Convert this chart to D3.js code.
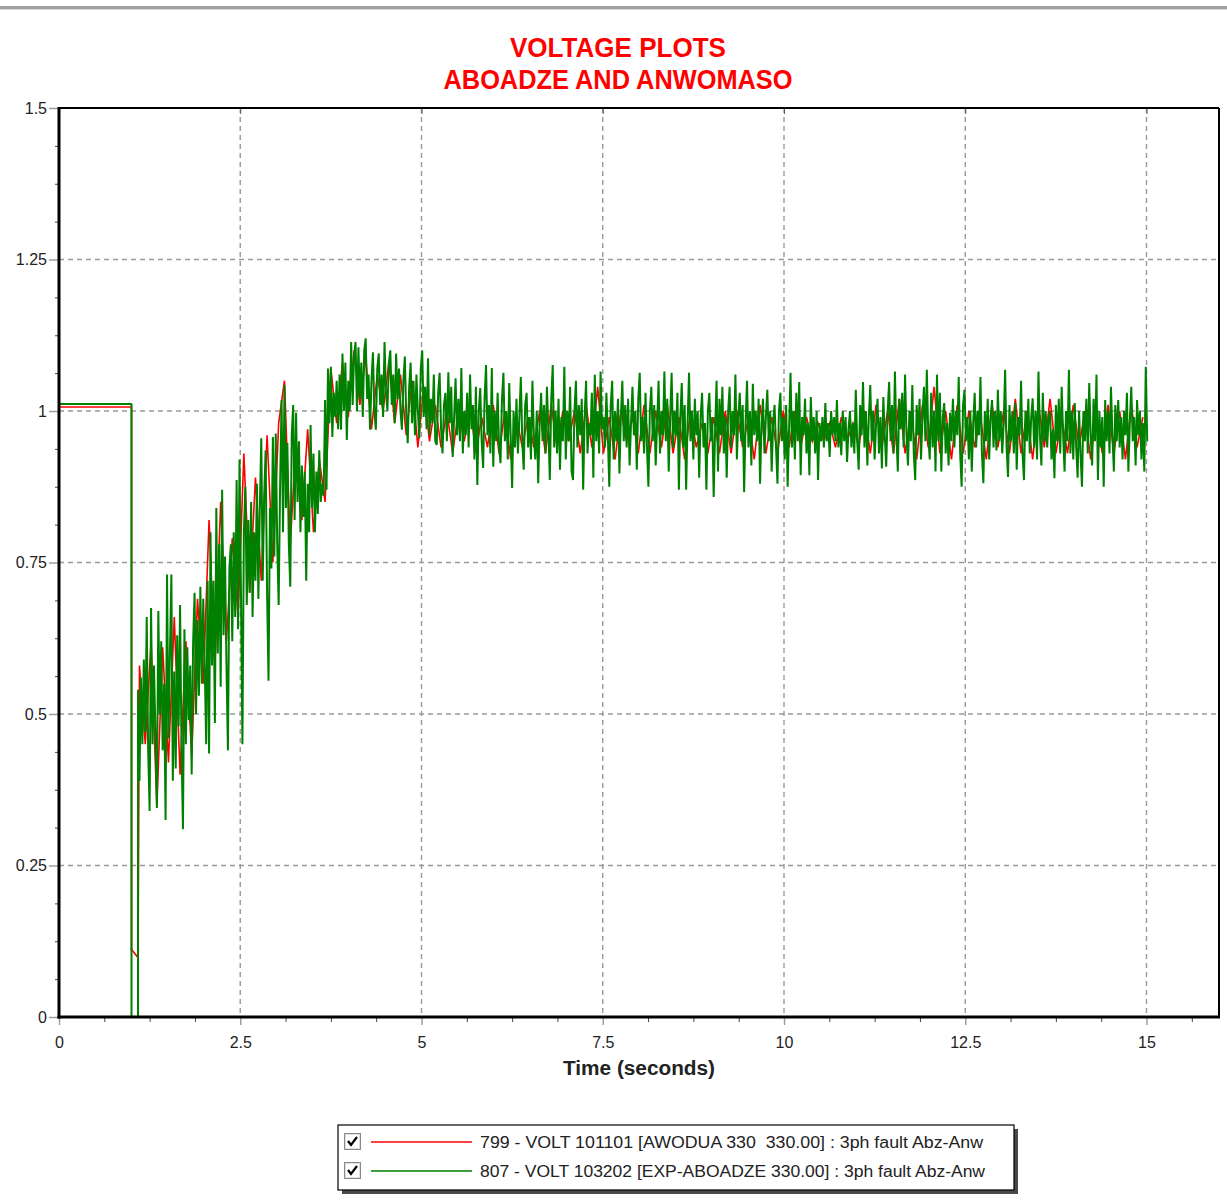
<!DOCTYPE html>
<html>
<head>
<meta charset="utf-8">
<script src="https://cdn.jsdelivr.net/npm/d3@7"></script>
<style>
  body { margin: 0; background: #fff; }
  svg { display: block; font-family: "Liberation Sans", Arial, sans-serif; }
</style>
</head>
<body>
<script>
// ---- data ----
const xTicks = [0, 2.5, 5, 7.5, 10, 12.5, 15]
const yTicks = [0, 0.25, 0.5, 0.75, 1, 1.25, 1.5]
const xMinorStep = 0.625
const yMinorStep = 0.0625

// before / during the fault: [time, volt]
const redPre = [[0, 1.0066], [1.0, 1.0066], [1.0, 0.11], [1.01, 0.11], [1.09, 0.098]]
const greenPre = [[0, 1.0115], [1.0, 1.0115], [1.0, 0], [1.09, 0]]

// after fault clearing, one row per second, sampled every greenDt from greenT0
const greenT0 = 1.09, greenDt = 0.02
const greenVals = [
  0.54, 0.39, 0.56, 0.45, 0.59, 0.47, 0.66, 0.44, 0.34, 0.675, 0.45, 0.58, 0.47, 0.345, 0.67, 0.50, 0.62, 0.44, 0.55, 0.325,
  0.73, 0.46, 0.60, 0.73, 0.39, 0.57, 0.41, 0.63, 0.48, 0.68, 0.44, 0.31, 0.64, 0.45, 0.61, 0.49, 0.58, 0.40, 0.62, 0.70,
  0.50, 0.655, 0.53, 0.71, 0.55, 0.69, 0.58, 0.45, 0.72, 0.435,

  0.80, 0.58, 0.72, 0.485, 0.84, 0.60, 0.78, 0.545, 0.87, 0.63, 0.76, 0.58, 0.44, 0.74, 0.78, 0.62, 0.80, 0.66, 0.886, 0.64,
  0.92, 0.70, 0.45, 0.80, 0.875, 0.68, 0.82, 0.70, 0.85, 0.66, 0.80, 0.72, 0.88, 0.69, 0.84, 0.955, 0.72, 0.86, 0.935, 0.70,
  0.555, 0.84, 0.74, 0.957, 0.76, 0.963, 0.78, 0.68, 0.88, 1.018,

  0.80, 1.043, 0.84, 0.947, 0.78, 0.71, 0.96, 1.01, 0.82, 0.997, 0.85, 0.95, 0.80, 0.91, 0.825, 0.90, 0.72, 0.88, 0.80, 0.977,
  0.84, 0.93, 0.80, 0.90, 0.83, 0.935, 0.85, 0.88, 0.86, 1.018, 0.87, 1.07, 0.98, 1.073, 0.957, 1.03, 0.99, 1.05, 0.97, 1.06,
  0.969, 1.095, 1.00, 1.08, 0.952, 1.05, 1.00, 1.114, 1.01, 1.09,

  1.114, 1.00, 1.105, 1.02, 1.08, 0.99, 1.10, 1.12, 1.02, 1.06, 0.969, 1.05, 1.097, 1.00, 0.969, 1.07, 1.095, 1.01, 1.06, 0.99,
  1.114, 1.03, 1.00, 1.08, 1.10, 1.01, 1.06, 0.98, 1.095, 1.02, 1.07, 1.00, 0.969, 1.05, 1.09, 0.99, 0.947, 1.04, 1.08, 0.98,
  1.05, 0.96, 1.06, 1.00, 0.955, 1.07, 1.10, 0.99, 1.04, 0.97,

  1.087, 0.96, 1.02, 0.98, 1.06, 0.95, 0.944, 1.03, 1.063, 0.97, 0.93, 1.01, 1.03, 0.95, 1.064, 0.98, 1.04, 0.924, 0.99, 1.054,
  0.96, 1.02, 0.95, 1.071, 0.93, 1.00, 0.96, 1.03, 0.94, 1.06, 0.97, 1.01, 0.92, 1.04, 0.878, 1.00, 1.038, 0.95, 0.906, 1.02,
  1.076, 0.96, 1.01, 0.93, 1.071, 0.908, 1.00, 0.95, 1.03, 0.94,

  0.914, 1.02, 1.063, 0.95, 1.00, 0.92, 1.046, 0.96, 0.873, 1.00, 0.94, 1.02, 0.93, 0.99, 1.056, 0.95, 0.903, 1.01, 1.03, 0.94,
  0.99, 0.92, 1.05, 0.96, 0.92, 1.00, 0.881, 0.98, 1.03, 0.95, 1.01, 0.93, 1.04, 0.97, 0.886, 1.02, 1.076, 0.94, 1.00, 0.93,
  1.02, 0.903, 0.99, 0.95, 1.073, 0.92, 1.00, 0.95, 1.04, 0.90,

  0.886, 1.00, 1.05, 0.94, 1.01, 0.96, 1.02, 0.87, 0.99, 1.05, 0.93, 0.98, 0.96, 1.03, 0.89, 1.06, 0.95, 1.00, 0.93, 1.065,
  0.97, 0.99, 0.94, 1.03, 0.96, 0.875, 1.01, 1.05, 0.92, 1.00, 0.95, 1.02, 0.897, 0.99, 1.05, 0.95, 1.01, 0.94, 1.02, 0.91,
  0.98, 1.04, 0.96, 1.00, 0.903, 1.02, 1.063, 0.95, 0.99, 0.93,

  1.03, 0.94, 0.875, 1.00, 1.04, 0.95, 1.01, 0.91, 0.98, 1.05, 0.93, 1.00, 0.96, 1.065, 0.95, 1.02, 0.90, 0.99, 1.063, 0.94,
  1.00, 0.96, 1.03, 0.87, 0.99, 1.046, 0.94, 1.01, 0.87, 0.98, 1.063, 0.95, 1.00, 0.92, 1.02, 0.96, 1.00, 0.89, 0.99, 1.03,
  0.94, 0.98, 0.87, 1.00, 1.03, 0.95, 0.99, 0.858, 0.97, 1.05,

  0.90, 1.02, 0.96, 1.04, 0.93, 0.99, 0.89, 1.00, 1.04, 0.94, 1.00, 0.96, 1.06, 0.92, 0.99, 1.03, 0.95, 1.01, 0.866, 0.98,
  1.05, 0.94, 1.00, 0.91, 1.045, 0.96, 1.00, 0.95, 1.02, 0.88, 0.98, 1.02, 0.93, 0.99, 1.035, 0.95, 1.00, 0.90, 0.98, 1.01,
  0.94, 0.88, 1.00, 1.03, 0.95, 0.99, 0.92, 1.01, 0.875, 0.97,

  1.063, 0.94, 1.00, 0.92, 1.03, 0.95, 1.048, 0.894, 0.99, 0.96, 1.02, 0.93, 0.98, 0.894, 1.023, 0.95, 0.99, 0.93, 1.00, 0.886,
  0.98, 0.95, 0.99, 0.94, 1.013, 0.95, 0.98, 0.924, 1.00, 0.96, 0.99, 0.95, 1.018, 0.94, 0.98, 0.927, 1.00, 0.95, 0.99, 0.916,
  0.97, 1.00, 0.94, 0.98, 0.93, 1.035, 0.95, 0.903, 1.01, 0.96,

  1.048, 0.94, 1.00, 0.91, 0.99, 1.043, 0.95, 1.00, 0.92, 0.98, 1.02, 0.93, 0.99, 0.905, 1.023, 0.96, 0.908, 1.00, 1.048, 0.95,
  1.01, 0.93, 1.065, 0.96, 0.90, 1.02, 0.97, 1.03, 0.94, 1.06, 0.96, 0.91, 1.00, 0.95, 1.043, 0.93, 0.886, 1.01, 0.96, 1.02,
  0.92, 0.99, 1.04, 0.95, 1.068, 0.96, 0.92, 1.03, 0.94, 1.00,

  0.90, 1.06, 0.95, 1.03, 0.90, 0.99, 1.013, 0.93, 0.98, 0.91, 0.997, 0.95, 1.02, 0.94, 1.00, 0.96, 1.056, 0.93, 0.875, 1.01,
  1.035, 0.95, 0.99, 0.92, 1.00, 0.90, 0.98, 1.03, 0.94, 1.00, 0.96, 1.056, 0.93, 0.881, 1.00, 0.95, 1.02, 0.92, 0.99, 1.018,
  0.94, 1.00, 0.935, 1.035, 0.95, 1.00, 0.93, 0.98, 1.068, 0.94,

  0.891, 1.01, 0.95, 1.00, 0.93, 1.013, 0.903, 0.99, 0.96, 1.05, 0.93, 0.886, 1.00, 0.95, 1.02, 0.93, 0.99, 1.021, 0.94, 1.00,
  0.92, 1.065, 0.96, 0.91, 1.03, 0.95, 1.00, 0.94, 0.99, 1.00, 0.92, 0.97, 0.889, 1.01, 0.95, 1.02, 0.93, 1.04, 0.96, 0.90,
  1.00, 0.95, 1.068, 0.93, 1.00, 0.92, 1.013, 0.94, 0.89, 1.00,

  0.93, 0.875, 1.00, 0.95, 1.02, 0.93, 1.046, 0.96, 0.91, 1.02, 0.95, 1.06, 0.886, 1.00, 0.94, 0.99, 0.875, 1.018, 0.95, 1.00,
  0.93, 1.04, 0.96, 0.90, 1.01, 0.95, 1.018, 0.94, 0.99, 0.92, 1.00, 0.96, 1.03, 0.90, 0.98, 1.04, 0.95, 0.99, 0.91, 1.018,
  0.96, 1.00, 0.92, 0.98, 0.90, 1.073, 0.95
]

// red is mostly hidden under green; coarser sampling
const redT0 = 1.11, redDt = 0.08
const redVals = [
  0.58, 0.45, 0.62, 0.347, 0.61, 0.42, 0.66, 0.40, 0.62, 0.43, 0.69, 0.55, 0.82, 0.58, 0.85, 0.62, 0.79, 0.66, 0.93, 0.70, 0.89, 0.72, 0.96, 0.75, 0.98,
  1.05, 0.78, 0.95, 0.82, 0.97, 0.80, 0.92, 0.85, 1.07, 0.98, 1.08, 0.99, 1.10, 1.01, 1.09, 0.97, 1.06, 1.00, 1.08, 0.98, 1.06, 0.96, 1.05, 0.94, 1.04,
  0.95, 1.01, 0.94, 1.00, 0.93, 1.00, 0.95, 1.01, 0.93, 0.99, 0.94, 1.01, 0.93, 1.00, 0.92, 0.99, 0.94, 0.99, 0.94, 1.00, 0.93, 1.01, 0.94, 1.00, 0.95,
  1.00, 0.93, 1.01, 0.94, 1.04, 0.93, 0.99, 0.92, 1.00, 0.95, 0.99, 0.93, 1.01, 0.93, 1.00, 0.94, 1.01, 0.93, 0.99, 0.92, 1.00, 0.94, 0.98, 0.93, 0.99,
  0.93, 1.00, 0.93, 1.00, 0.94, 0.99, 0.92, 1.01, 0.93, 0.99, 0.93, 1.00, 0.94, 1.00, 0.94, 0.99, 0.95, 0.98, 0.95, 0.98, 0.94, 0.99, 0.95, 0.98, 0.94,
  1.00, 0.93, 1.01, 0.94, 1.00, 0.93, 1.02, 0.93, 1.00, 0.92, 1.01, 0.94, 1.04, 0.93, 1.00, 0.92, 1.01, 0.93, 1.00, 0.94, 0.99, 0.92, 1.01, 0.94, 1.00,
  0.93, 1.02, 0.93, 1.00, 0.92, 1.01, 0.94, 1.02, 0.93, 0.99, 0.93, 1.01, 0.94, 1.00, 0.92, 1.00, 0.93, 1.01, 0.93, 1.00, 0.92, 1.01, 0.94, 0.99
]

const titleLines = ['VOLTAGE PLOTS', 'ABOADZE AND ANWOMASO']
const xTitle = 'Time (seconds)'
const series = [
  { name: '799 - VOLT 101101 [AWODUA 330  330.00] : 3ph fault Abz-Anw', color: '#ff0000' },
  { name: '807 - VOLT 103202 [EXP-ABOADZE 330.00] : 3ph fault Abz-Anw', color: '#008000' }
]

// ---- chart ----
const width = 1227, height = 1201
const plot = { left: 59, right: 1219, top: 108, bottom: 1017 }

const x = d3.scaleLinear().domain([0, 16]).range([plot.left, plot.right])
const y = d3.scaleLinear().domain([0, 1.5]).range([plot.bottom, plot.top])

const svg = d3.select('body').append('svg')
  .attr('width', width).attr('height', height)

svg.append('rect').attr('width', width).attr('height', height).attr('fill', '#fff')

// window strip at the very top
svg.append('rect').attr('x', 0).attr('y', 6).attr('width', width).attr('height', 3).attr('fill', '#a0a0a0')
svg.append('rect').attr('x', 0).attr('y', 9).attr('width', width).attr('height', 1).attr('fill', '#d8d8d8')

// title
svg.append('g').selectAll('text').data(titleLines).join('text')
  .attr('x', 618)
  .attr('y', (d, i) => 57 + i * 32)
  .attr('text-anchor', 'middle')
  .attr('font-size', 28)
  .attr('font-weight', 'bold')
  .attr('fill', '#ff0000')
  .attr('textLength', (d, i) => (i === 0 ? 216 : 349))
  .attr('lengthAdjust', 'spacingAndGlyphs')
  .text((d) => d)

// grid
const grid = svg.append('g')
  .attr('stroke', '#999')
  .attr('stroke-width', 1.4)
  .attr('stroke-dasharray', '5,4')
grid.selectAll('.gx').data(xTicks.filter((d) => d > 0)).join('line')
  .attr('x1', (d) => x(d)).attr('x2', (d) => x(d))
  .attr('y1', plot.top).attr('y2', plot.bottom)
grid.selectAll('.gy').data(yTicks.filter((d) => d > 0 && d < 1.5)).join('line')
  .attr('y1', (d) => y(d)).attr('y2', (d) => y(d))
  .attr('x1', plot.left).attr('x2', plot.right)

// series
svg.append('clipPath').attr('id', 'clip')
  .append('rect')
  .attr('x', plot.left).attr('y', plot.top)
  .attr('width', plot.right - plot.left).attr('height', plot.bottom - plot.top)

const redData = redPre.concat(redVals.map((v, i) => [redT0 + i * redDt, v]))
const greenData = greenPre.concat(greenVals.map((v, i) => [greenT0 + i * greenDt, v]))

const line = d3.line().x((d) => x(d[0])).y((d) => y(d[1]))

const lines = svg.append('g').attr('clip-path', 'url(#clip)')
lines.append('path').datum(redData)
  .attr('d', line).attr('fill', 'none')
  .attr('stroke', series[0].color).attr('stroke-width', 1.6)
lines.append('path').datum(greenData)
  .attr('d', line).attr('fill', 'none')
  .attr('stroke', series[1].color).attr('stroke-width', 2)
  .attr('stroke-linejoin', 'bevel')

// axes
const fmt = (d) => String(d)
const xMinor = d3.range(0, 16.001, xMinorStep).filter((d) => !xTicks.includes(d))
const yMinor = d3.range(0, 1.5001, yMinorStep).filter((d) => !yTicks.includes(d))

const xAxis = svg.append('g')
  .attr('transform', `translate(0,${plot.bottom})`)
  .call(d3.axisBottom(x).tickValues(xTicks).tickFormat(fmt).tickSize(8).tickPadding(12))
xAxis.select('.domain').remove()
xAxis.selectAll('line').attr('stroke', '#999').attr('stroke-width', 1.4)

const xAxisMinor = svg.append('g')
  .attr('transform', `translate(0,${plot.bottom})`)
  .call(d3.axisBottom(x).tickValues(xMinor).tickFormat('').tickSize(5))
xAxisMinor.select('.domain').remove()
xAxisMinor.selectAll('line').attr('stroke', '#444')

const xTop = svg.append('g')
  .attr('transform', `translate(0,${plot.top})`)
  .call(d3.axisBottom(x).tickValues(xTicks.filter((d) => d > 0)).tickFormat('').tickSize(6))
xTop.select('.domain').remove()
xTop.selectAll('line').attr('stroke', '#555')

const yAxis = svg.append('g')
  .attr('transform', `translate(${plot.left},0)`)
  .call(d3.axisLeft(y).tickValues(yTicks).tickFormat(fmt).tickSize(10).tickPadding(2))
yAxis.select('.domain').remove()
yAxis.selectAll('line').attr('stroke', '#999').attr('stroke-width', 1.4)

const yAxisMinor = svg.append('g')
  .attr('transform', `translate(${plot.left},0)`)
  .call(d3.axisLeft(y).tickValues(yMinor).tickFormat('').tickSize(4))
yAxisMinor.select('.domain').remove()
yAxisMinor.selectAll('line').attr('stroke', '#444')

svg.selectAll('.tick text')
  .attr('font-size', 16)
  .attr('fill', '#222')
  .attr('font-family', '"Liberation Sans", Arial, sans-serif')

// frame
svg.append('line').attr('x1', plot.left).attr('x2', plot.right)
  .attr('y1', plot.top).attr('y2', plot.top).attr('stroke', '#000').attr('stroke-width', 2)
svg.append('line').attr('x1', plot.right).attr('x2', plot.right)
  .attr('y1', plot.top).attr('y2', plot.bottom).attr('stroke', '#000').attr('stroke-width', 2)
svg.append('line').attr('x1', plot.left).attr('x2', plot.left)
  .attr('y1', plot.top - 1).attr('y2', plot.bottom + 1.5).attr('stroke', '#000').attr('stroke-width', 3)
svg.append('line').attr('x1', plot.left - 1.5).attr('x2', plot.right + 1)
  .attr('y1', plot.bottom).attr('y2', plot.bottom).attr('stroke', '#000').attr('stroke-width', 3)

// x axis title
svg.append('text')
  .attr('x', (plot.left + plot.right) / 2)
  .attr('y', 1075)
  .attr('text-anchor', 'middle')
  .attr('font-size', 20)
  .attr('font-weight', 'bold')
  .attr('fill', '#222')
  .attr('textLength', 152)
  .attr('lengthAdjust', 'spacingAndGlyphs')
  .text(xTitle)

// legend
const lg = { x: 338, y: 1125, w: 676, h: 65 }
svg.append('rect').attr('x', lg.x + 4).attr('y', lg.y + 4)
  .attr('width', lg.w).attr('height', lg.h).attr('fill', '#4a4a4a')
svg.append('rect').attr('x', lg.x).attr('y', lg.y)
  .attr('width', lg.w).attr('height', lg.h)
  .attr('fill', '#fff').attr('stroke', '#000').attr('stroke-width', 1.2)

const item = svg.append('g').selectAll('g').data(series).join('g')
  .attr('transform', (d, i) => `translate(0,${lg.y + 17 + i * 29})`)
item.append('rect')
  .attr('x', 344.5).attr('y', -8.5).attr('width', 16).attr('height', 16)
  .attr('fill', '#fff').attr('stroke', '#8a8a8a').attr('stroke-width', 1)
item.append('rect')
  .attr('x', 345.5).attr('y', -7.5).attr('width', 14).attr('height', 14)
  .attr('fill', 'none').attr('stroke', '#e0e0e0').attr('stroke-width', 1)
item.append('path')
  .attr('d', 'M348,-1 L351,3 L357,-5')
  .attr('fill', 'none').attr('stroke', '#000').attr('stroke-width', 2.2)
item.append('line')
  .attr('x1', 371).attr('x2', 472).attr('y1', 0).attr('y2', 0)
  .attr('stroke', (d) => d.color).attr('stroke-width', 1.6)
item.append('text')
  .attr('x', 480).attr('y', 6)
  .attr('font-size', 16)
  .attr('fill', '#222')
  .attr('xml:space', 'preserve')
  .style('white-space', 'pre')
  .attr('textLength', (d, i) => (i === 0 ? 503 : 505))
  .attr('lengthAdjust', 'spacingAndGlyphs')
  .text((d) => d.name)
</script>
</body>
</html>
